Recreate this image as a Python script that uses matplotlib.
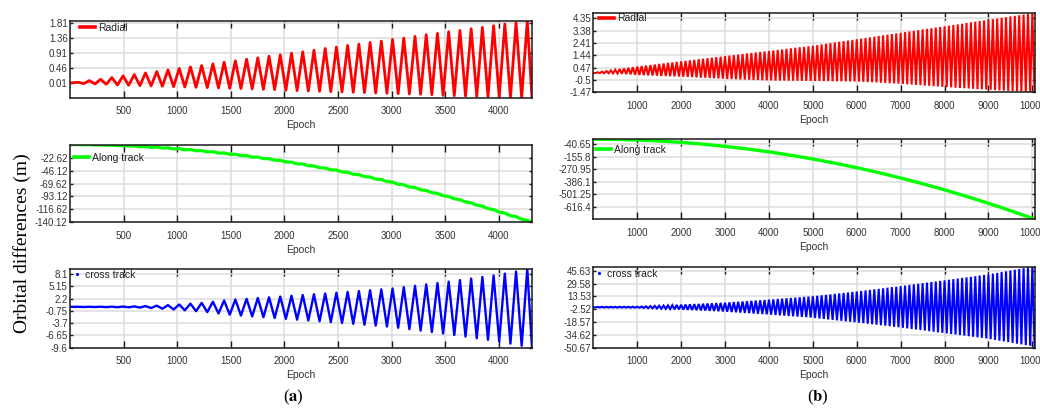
import numpy as np
import matplotlib
matplotlib.use("Agg")
import matplotlib.pyplot as plt
from matplotlib.lines import Line2D

# ======================= DATA =======================
# ---- panel (a): epochs 1..4310, orbit cycle ~104.75 epochs ----
a_first_peak = 76.0
a_period = 104.75
a_last_epoch = 4310
a_xticks = [500, 1000, 1500, 2000, 2500, 3000, 3500, 4000]

radial_a_start = 0.01
radial_a_peaks = [0.03, 0.08, 0.12, 0.17, 0.22, 0.26, 0.31, 0.35, 0.40, 0.44,
                  0.49, 0.53, 0.58, 0.63, 0.67, 0.72, 0.76, 0.81, 0.85, 0.90,
                  0.94, 0.99, 1.04, 1.08, 1.13, 1.17, 1.22, 1.26, 1.31, 1.35,
                  1.40, 1.45, 1.49, 1.54, 1.58, 1.63, 1.67, 1.72, 1.77, 1.81, 1.86]
radial_a_troughs = [-0.01, -0.02, -0.03, -0.05, -0.06, -0.07, -0.08, -0.09, -0.10, -0.11,
                    -0.12, -0.13, -0.14, -0.15, -0.16, -0.17, -0.18, -0.19, -0.21, -0.22,
                    -0.23, -0.24, -0.25, -0.26, -0.27, -0.28, -0.29, -0.30, -0.31, -0.32,
                    -0.33, -0.34, -0.36, -0.37, -0.38, -0.39, -0.40, -0.41, -0.42, -0.43]
radial_a_end = -0.44
radial_a_yticks = [0.01, 0.46, 0.91, 1.36, 1.81]
radial_a_ylim = (-0.44, 1.86)

# along track (a): values at every half cycle (small ripple on a parabola)
along_a_start = 0.9
along_a_values = [1.2, 0.7, 1.0, 0.4, 0.6, -0.1, 0.0, -0.7, -0.7, -1.5,
                  -1.0, -2.9, -2.1, -4.1, -3.3, -5.3, -4.7, -6.8, -6.2, -8.4,
                  -7.9, -10.2, -9.8, -12.2, -11.8, -14.3, -14.0, -16.6, -16.4, -19.0,
                  -18.9, -21.7, -21.6, -24.4, -24.5, -27.4, -27.5, -30.5, -30.8, -33.8,
                  -34.1, -37.3, -37.7, -40.9, -41.4, -44.7, -45.2, -48.6, -49.3, -52.8,
                  -53.5, -57.1, -57.9, -61.5, -62.4, -66.1, -67.1, -70.9, -72.0, -75.9,
                  -77.0, -81.0, -82.2, -86.3, -87.6, -91.8, -93.2, -97.4, -98.9, -103.2,
                  -104.7, -109.1, -110.8, -115.3, -117.0, -121.6, -123.4, -128.0, -129.9, -134.6,
                  -136.6]
along_a_end = -140.12
along_a_yticks = [-140.12, -116.62, -93.12, -69.62, -46.12, -22.62]
along_a_ylim = (-140.12, 0.9)

cross_a_start = 0.2
cross_a_peaks = [0.23, 0.24, 0.25, 0.26, 0.28, 0.32, 0.40, 0.50, 0.63, 0.77,
                 0.97, 1.17, 1.44, 1.73, 1.97, 2.15, 2.33, 2.51, 2.69, 2.87,
                 3.06, 3.24, 3.42, 3.60, 3.80, 4.00, 4.20, 4.41, 4.62, 4.95,
                 5.27, 5.60, 5.93, 6.27, 6.64, 7.01, 7.38, 7.75, 8.19, 8.69, 9.30]
cross_a_troughs = [0.17, 0.16, 0.14, 0.12, 0.09, 0.03, -0.08, -0.24, -0.42, -0.62,
                   -0.83, -1.05, -1.38, -1.67, -1.88, -2.08, -2.28, -2.47, -2.67, -2.86,
                   -3.06, -3.25, -3.45, -3.66, -3.87, -4.08, -4.30, -4.52, -4.81, -5.15,
                   -5.50, -5.84, -6.18, -6.56, -6.94, -7.33, -7.71, -8.10, -8.62, -9.13]
cross_a_end = -9.6
cross_a_yticks = [-9.6, -6.65, -3.7, -0.75, 2.2, 5.15, 8.1]
cross_a_ylim = (-9.6, 9.3)

# ---- panel (b): epochs 1..10050, orbit cycle ~100 epochs ----
b_first_trough = 50.0
b_period = 100.0
b_last_epoch = 10050
b_xmax = 10060
b_xticks = [1000, 2000, 3000, 4000, 5000, 6000, 7000, 8000, 9000, 10000]

radial_b_start = 0.05
radial_b_troughs = [0.04, 0.04, 0.03, 0.03, 0.02, 0.01, -0.01, -0.04, -0.06, -0.09,
                    -0.11, -0.12, -0.14, -0.15, -0.16, -0.18, -0.19, -0.21, -0.22, -0.23,
                    -0.25, -0.26, -0.28, -0.30, -0.32, -0.33, -0.35, -0.37, -0.38, -0.40,
                    -0.42, -0.43, -0.44, -0.46, -0.47, -0.48, -0.50, -0.51, -0.52, -0.53,
                    -0.54, -0.55, -0.55, -0.55, -0.56, -0.56, -0.56, -0.57, -0.57, -0.58,
                    -0.58, -0.58, -0.59, -0.59, -0.60, -0.60, -0.60, -0.61, -0.61, -0.62,
                    -0.63, -0.65, -0.67, -0.68, -0.70, -0.72, -0.74, -0.76, -0.77, -0.79,
                    -0.81, -0.84, -0.86, -0.89, -0.91, -0.94, -0.96, -0.99, -1.01, -1.04,
                    -1.06, -1.08, -1.11, -1.13, -1.15, -1.17, -1.19, -1.22, -1.24, -1.26,
                    -1.28, -1.30, -1.32, -1.34, -1.36, -1.37, -1.39, -1.41, -1.43, -1.45]
radial_b_peaks = [0.10, 0.15, 0.20, 0.25, 0.30, 0.35, 0.40, 0.45, 0.50, 0.55,
                  0.59, 0.63, 0.67, 0.71, 0.76, 0.80, 0.84, 0.88, 0.92, 0.96,
                  1.00, 1.04, 1.08, 1.13, 1.17, 1.21, 1.25, 1.29, 1.33, 1.37,
                  1.41, 1.45, 1.49, 1.54, 1.58, 1.62, 1.66, 1.70, 1.74, 1.78,
                  1.82, 1.86, 1.90, 1.95, 1.99, 2.03, 2.07, 2.11, 2.15, 2.19,
                  2.24, 2.29, 2.34, 2.39, 2.45, 2.50, 2.55, 2.60, 2.65, 2.70,
                  2.75, 2.80, 2.85, 2.90, 2.96, 3.01, 3.06, 3.11, 3.16, 3.21,
                  3.26, 3.31, 3.36, 3.41, 3.47, 3.52, 3.57, 3.62, 3.67, 3.72,
                  3.77, 3.82, 3.87, 3.92, 3.98, 4.03, 4.08, 4.13, 4.18, 4.23,
                  4.28, 4.33, 4.38, 4.43, 4.49, 4.54, 4.59, 4.64, 4.69, 4.74]
radial_b_end = -1.47
radial_b_yticks = [-1.47, -0.5, 0.47, 1.44, 2.41, 3.38, 4.35]
radial_b_ylim = (-1.47, 4.74)

along_b_epochs = [0, 500, 1000, 1500, 2000, 2500, 3000, 3500, 4000, 4500, 5000,
                  5500, 6000, 6500, 7000, 7500, 8000, 8500, 9000, 9500, 10000, 10060]
along_b_values = [8.0, 6.2, 0.7, -8.4, -21.2, -37.7, -57.8, -81.5, -108.9, -140.0, -174.7,
                  -213.0, -255.1, -300.7, -350.0, -403.0, -459.6, -519.9, -583.9, -651.5,
                  -722.7, -731.55]
along_b_yticks = [-616.4, -501.25, -386.1, -270.95, -155.8, -40.65]
along_b_ylim = (-731.55, 10.0)

cross_b_start = 0.0
cross_b_troughs = [-0.3, -0.3, -0.4, -0.4, -0.4, -0.5, -0.5, -0.5, -0.5, -0.6,
                   -0.7, -0.9, -1.2, -1.4, -1.6, -1.9, -2.1, -2.3, -2.6, -2.8,
                   -3.1, -3.3, -3.6, -3.8, -4.1, -4.3, -4.6, -4.8, -5.1, -5.4,
                   -5.7, -6.1, -6.4, -6.8, -7.2, -7.5, -7.9, -8.3, -8.6, -9.0,
                   -9.4, -9.8, -10.2, -10.6, -11.0, -11.4, -11.8, -12.2, -12.6, -13.0,
                   -13.6, -14.2, -14.7, -15.3, -15.9, -16.5, -17.0, -17.6, -18.2, -18.8,
                   -19.4, -20.0, -20.7, -21.3, -21.9, -22.6, -23.2, -23.8, -24.5, -25.1,
                   -25.8, -26.5, -27.2, -27.9, -28.6, -29.3, -30.0, -30.7, -31.4, -32.1,
                   -32.8, -33.5, -34.2, -34.9, -35.6, -36.3, -37.0, -37.7, -38.4, -39.1,
                   -40.0, -40.9, -41.9, -42.8, -43.7, -44.6, -45.6, -46.5, -47.4, -48.3]
cross_b_peaks = [0.3, 0.4, 0.4, 0.4, 0.5, 0.5, 0.5, 0.5, 0.6, 0.6,
                 0.8, 1.1, 1.3, 1.6, 1.8, 2.0, 2.3, 2.5, 2.8, 3.0,
                 3.3, 3.5, 3.8, 4.0, 4.3, 4.6, 4.8, 5.1, 5.3, 5.6,
                 6.0, 6.4, 6.7, 7.1, 7.5, 7.9, 8.3, 8.6, 9.0, 9.4,
                 9.8, 10.2, 10.7, 11.1, 11.5, 11.9, 12.3, 12.8, 13.2, 13.6,
                 14.2, 14.8, 15.4, 16.0, 16.6, 17.2, 17.8, 18.4, 19.0, 19.6,
                 20.3, 20.9, 21.6, 22.3, 22.9, 23.6, 24.3, 25.0, 25.6, 26.3,
                 27.0, 27.8, 28.5, 29.2, 30.0, 30.7, 31.4, 32.1, 32.9, 33.6,
                 34.3, 35.1, 35.8, 36.6, 37.3, 38.0, 38.8, 39.5, 40.3, 41.0,
                 42.0, 42.9, 43.9, 44.8, 45.8, 46.8, 47.7, 48.7, 49.6, 50.6]
cross_b_end = -50.67
cross_b_yticks = [-50.67, -34.62, -18.57, -2.52, 13.53, 29.58, 45.63]
cross_b_ylim = (-50.67, 50.6)

RED, GREEN, BLUE = "#ff0000", "#00ff00", "#0000ff"

# ======================= helpers =======================
def alternating(start_val, first_epoch, period, first_list, second_list, last_epoch, end_val):
    """Interleave extremes read per cycle (first_list[i], second_list[i], ...)."""
    vals = []
    for i in range(max(len(first_list), len(second_list))):
        if i < len(first_list):
            vals.append(first_list[i])
        if i < len(second_list):
            vals.append(second_list[i])
    ep = first_epoch + (period / 2.0) * np.arange(len(vals))
    epochs = np.concatenate([[1.0], ep, [last_epoch]])
    values = np.concatenate([[start_val], vals, [end_val]])
    return epochs, values


W, H = 1040, 411
plt.rcParams["axes.unicode_minus"] = False
plt.rcParams["mathtext.fontset"] = "stix"
TICKFONT = ["Liberation Sans Narrow", "Liberation Sans", "DejaVu Sans"]

fig = plt.figure(figsize=(W / 100, H / 100), dpi=100)


def make_axes(left, top, right, bottom):
    return fig.add_axes([left / W, 1 - bottom / H, (right - left) / W, (bottom - top) / H])


def style(ax, xlim, xticks, ylim, yticks):
    ax.set_xlim(*xlim)
    ax.set_ylim(*ylim)
    ax.set_xticks(xticks)
    ax.set_xticklabels([str(t) for t in xticks])
    ax.set_yticks(yticks)
    ax.set_yticklabels(["%g" % t for t in yticks])
    ax.grid(True, color="#dcdcdc", linewidth=1.1)
    ax.set_axisbelow(True)
    for s in ax.spines.values():
        s.set_linewidth(1.1)
        s.set_color("#1a1a1a")
    ax.tick_params(axis="x", direction="in", length=5, width=1.0, top=True, pad=6,
                   labelsize=7, colors="#1a1a1a", labelcolor="#333333")
    ax.tick_params(axis="y", direction="in", length=2.2, width=1.0, right=True, pad=1.6,
                   labelsize=7, colors="#1a1a1a", labelcolor="#333333")
    for lab in ax.get_xticklabels() + ax.get_yticklabels():
        lab.set_family(TICKFONT)
    ax.set_xlabel("Epoch", fontsize=7.5, family=TICKFONT, color="#333333", labelpad=3)
    ax.set_facecolor("white")


def legend_at(ax, handle, label, x_px, y_px, hl=1.45):
    leg = ax.legend([handle], [label], loc="center left",
                    bbox_to_anchor=(x_px / W, 1 - y_px / H), bbox_transform=fig.transFigure,
                    frameon=False, borderpad=0, borderaxespad=0, handlelength=hl,
                    handletextpad=0.25, prop={"family": TICKFONT, "size": 7.5})
    for t in leg.get_texts():
        t.set_color("#222222")


# ----- panel (a) -----
axA1 = make_axes(70, 21, 532, 98)
ep, v = alternating(radial_a_start, a_first_peak, a_period, radial_a_peaks, radial_a_troughs,
                    a_last_epoch, radial_a_end)
axA1.plot(ep, v, color=RED, lw=2.0, solid_joinstyle="round")
style(axA1, (0, a_last_epoch), a_xticks, radial_a_ylim, radial_a_yticks)
legend_at(axA1, Line2D([], [], color=RED, lw=2.6), "Radial", 80, 28)

axA2 = make_axes(70, 144.7, 532, 222.3)
ep = a_first_peak + (a_period / 2.0) * np.arange(len(along_a_values))
ep = np.concatenate([[1.0], ep, [a_last_epoch]])
v = np.concatenate([[along_a_start], along_a_values, [along_a_end]])
axA2.plot(ep, v, color=GREEN, lw=2.3, solid_joinstyle="round")
style(axA2, (0, a_last_epoch), a_xticks, along_a_ylim, along_a_yticks)
legend_at(axA2, Line2D([], [], color=GREEN, lw=2.6), "Along track", 74, 157.7)

axA3 = make_axes(70, 269, 532, 347.7)
ep, v = alternating(cross_a_start, a_first_peak, a_period, cross_a_peaks, cross_a_troughs,
                    a_last_epoch, cross_a_end)
axA3.plot(ep, v, color=BLUE, lw=1.7, solid_joinstyle="round")
style(axA3, (0, a_last_epoch), a_xticks, cross_a_ylim, cross_a_yticks)
legend_at(axA3, Line2D([], [], color=BLUE, marker=".", ls="none", markersize=2.5),
          "cross track", 72, 275, hl=1.0)

# ----- panel (b) -----
axB1 = make_axes(593.3, 13.3, 1035, 92.3)
ep, v = alternating(radial_b_start, b_first_trough, b_period, radial_b_troughs, radial_b_peaks,
                    b_last_epoch, radial_b_end)
axB1.plot(ep, v, color=RED, lw=1.5, solid_joinstyle="miter")
style(axB1, (0, b_xmax), b_xticks, radial_b_ylim, radial_b_yticks)
legend_at(axB1, Line2D([], [], color=RED, lw=2.6), "Radial", 599, 18.3)

axB2 = make_axes(593.3, 139, 1035, 219.3)
axB2.plot(along_b_epochs, along_b_values, color=GREEN, lw=2.4)
style(axB2, (0, b_xmax), b_xticks, along_b_ylim, along_b_yticks)
legend_at(axB2, Line2D([], [], color=GREEN, lw=2.6), "Along track", 596, 150)

axB3 = make_axes(593.3, 266.7, 1035, 347.7)
ep, v = alternating(cross_b_start, b_first_trough, b_period, cross_b_troughs, cross_b_peaks,
                    b_last_epoch, cross_b_end)
axB3.plot(ep, v, color=BLUE, lw=1.5, solid_joinstyle="miter")
style(axB3, (0, b_xmax), b_xticks, cross_b_ylim, cross_b_yticks)
legend_at(axB3, Line2D([], [], color=BLUE, marker=".", ls="none", markersize=2.5),
          "cross track", 594, 274, hl=1.0)

# ----- shared labels -----
fig.text(22 / W, 1 - 243 / H, "Orbital differences (m)", rotation=90, ha="center", va="center",
         family=["Liberation Serif", "DejaVu Serif"], fontsize=14)
fig.text(293 / W, 1 - 397 / H, r"($\mathbf{a}$)", ha="center", va="center",
         family=["Liberation Serif", "DejaVu Serif"], fontsize=12)
fig.text(818 / W, 1 - 397 / H, r"($\mathbf{b}$)", ha="center", va="center",
         family=["Liberation Serif", "DejaVu Serif"], fontsize=12)

fig.savefig("out.png", dpi=100, facecolor="white")
